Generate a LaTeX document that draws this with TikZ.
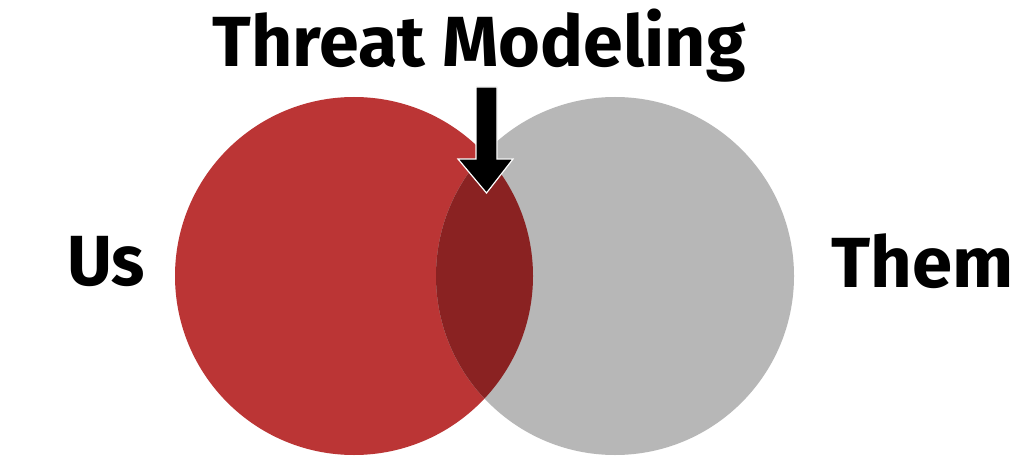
\documentclass[tikz,border=0pt]{standalone}
\usepackage{fontspec}
\setmainfont{Fira Sans}
\definecolor{usred}{HTML}{BB3535}
\definecolor{themgray}{HTML}{B7B7B7}
\definecolor{overlap}{HTML}{8A2222}
\begin{document}
\begin{tikzpicture}[x=1pt,y=-1pt,
  lbl/.style={inner sep=0pt,font=\fontsize{71}{80}\selectfont\bfseries},
  venn/.style={circle,inner sep=0pt,minimum size=358pt}]
\useasboundingbox (0,0) rectangle (1024,470);
\fill[white] (0,0) rectangle (1024,470);
\node[venn,fill=usred] (us) at (354,276) {};
\node[venn,fill=themgray] (them) at (615,276) {};
\begin{scope}
  \clip (354,276) circle (179);
  \fill[overlap] (615,276) circle (179);
\end{scope}
\node[lbl,anchor=base west,xscale=1.01] (title) at (212.5,67) {Threat Modeling};
\node[lbl,anchor=base west,xscale=0.97] (uslbl) at (67,285) {Us};
\node[lbl,anchor=base west,xscale=1.02] (themlbl) at (831,287) {Them};
\draw[white,line width=1.2pt,fill=black,line join=miter]
  (476,87) -- (497,87) -- (497,159) -- (513,159) -- (486.5,193)
  -- (458,159) -- (476,159) -- cycle;
\end{tikzpicture}
\end{document}
